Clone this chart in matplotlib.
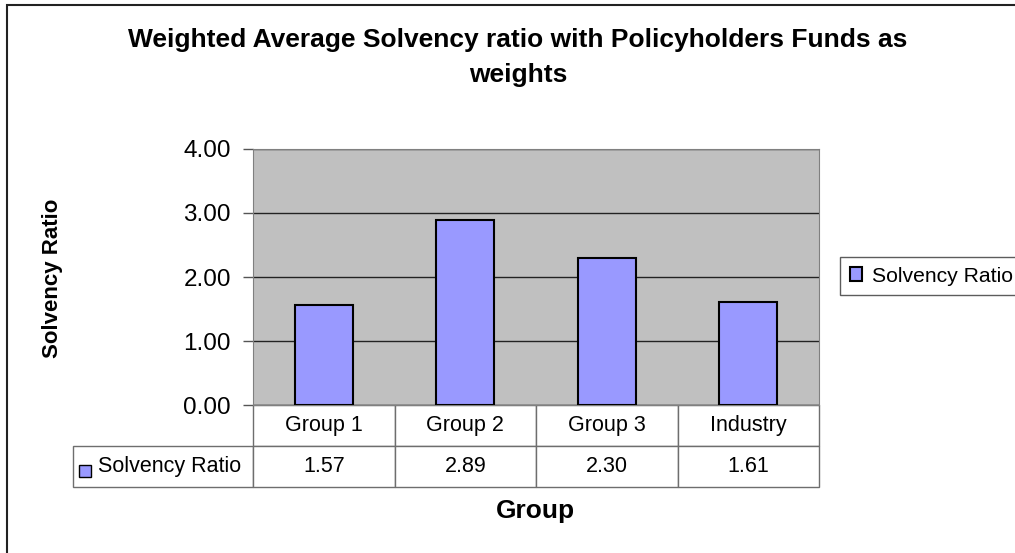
import numpy as np
import matplotlib.pyplot as plt
from matplotlib.patches import Rectangle
from matplotlib.table import Table

plt.rcParams['font.family'] = ['Liberation Sans', 'DejaVu Sans']

# data
groups = ['Group 1', 'Group 2', 'Group 3', 'Industry']
solvency = [1.57, 2.89, 2.30, 1.61]
series_name = 'Solvency Ratio'
yticks = [0, 1, 2, 3, 4]

W, H = 1015, 553
fig = plt.figure(figsize=(W / 100, H / 100), dpi=100)

# plot area in pixels: x 253..819, y 149..405
ax = fig.add_axes([253 / W, 1 - 405 / H, (819 - 253) / W, (405 - 149) / H])
ax.set_facecolor('#C0C0C0')

x = np.arange(len(groups))
bars = ax.bar(x, solvency, width=0.41, color='#9999FF', edgecolor='black',
              linewidth=1.5, zorder=3, label=series_name)
ax.set_xlim(-0.5, len(groups) - 0.5)
ax.set_ylim(0, 4)
ax.set_yticks(yticks)
ax.set_yticklabels(['%.2f' % v for v in yticks], fontsize=17.5)
ax.set_xticks([])
ax.yaxis.grid(True, color='#222222', linewidth=1)
ax.set_axisbelow(True)
for s in ['top', 'right', 'left', 'bottom']:
    ax.spines[s].set_color('#808080')
ax.tick_params(axis='y', length=7, width=1, color='#555555', pad=9)

# data table under the plot (column 0 = series label)
h_rows = (487 - 405) / (405 - 149)
left = (73 - 253) / (819 - 253)
tab = Table(ax, bbox=[left, -h_rows, 1 - left, h_rows])
c0 = tab.add_cell(0, 0, width=-left, height=0.5, text='')
c0.visible_edges = ''
tab.add_cell(1, 0, width=-left, height=0.5, text='    ' + series_name, loc='left')
for j, g in enumerate(groups):
    tab.add_cell(0, j + 1, width=0.25, height=0.5, text=g, loc='center')
    tab.add_cell(1, j + 1, width=0.25, height=0.5, text='%.2f' % solvency[j], loc='center')
tab.auto_set_font_size(False)
tab.set_fontsize(15.5)
for (r, c), cell in tab.get_celld().items():
    cell.set_edgecolor('#6E6E6E')
    cell.set_linewidth(1)
    cell.PAD = 0.005
ax.add_table(tab)

# legend key inside the table row label
fig.add_artist(Rectangle((79 / W, 1 - 477 / H), 12 / W, 12 / H,
                         facecolor='#9999FF', edgecolor='black', linewidth=1,
                         transform=fig.transFigure))

# titles
fig.text(518 / W, 1 - 47 / H, 'Weighted Average Solvency ratio with Policyholders Funds as',
         ha='center', va='baseline', fontsize=19, fontweight='bold')
fig.text(518 / W, 1 - 82 / H, 'weights',
         ha='center', va='baseline', fontsize=19, fontweight='bold')
fig.text(535 / W, 1 - 518 / H, 'Group', ha='center', va='baseline',
         fontsize=19, fontweight='bold')
fig.text(53 / W, 1 - 278 / H, 'Solvency Ratio', ha='center', va='center',
         rotation=90, fontsize=16, fontweight='bold')

# legend at the right
leg = fig.legend(handles=[bars], labels=[series_name], loc='upper left',
                 bbox_to_anchor=(840 / W, 1 - 257 / H), fontsize=15.2,
                 frameon=True, fancybox=False, edgecolor='#333333',
                 handlelength=0.6, handleheight=0.6, handletextpad=0.45,
                 borderpad=0.45, borderaxespad=0)
leg.get_frame().set_linewidth(1)

# chart area border (only left and top edges visible in the frame)
fig.add_artist(Rectangle((7 / W, -0.05), 1.2, 1 - 5 / H + 0.05, fill=False,
                         edgecolor='#222222', linewidth=1.5,
                         transform=fig.transFigure))

fig.savefig('out.png', dpi=100)
